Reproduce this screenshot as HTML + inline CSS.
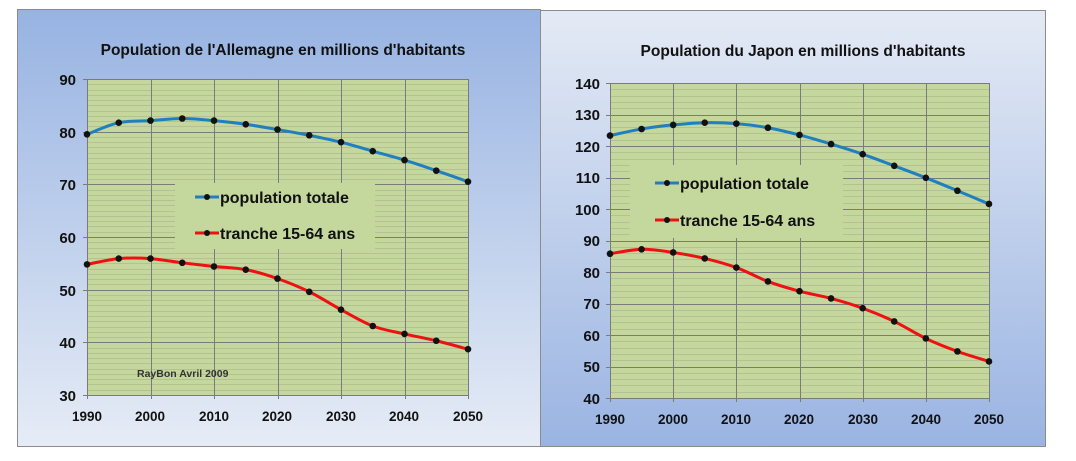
<!DOCTYPE html>
<html><head><meta charset="utf-8"><style>
body{margin:0;width:1076px;height:461px;background:#fff;overflow:hidden}
svg{display:block;font-family:"Liberation Sans",sans-serif;font-weight:bold}
</style></head><body>
<svg id="s" width="1076" height="461" xmlns="http://www.w3.org/2000/svg">
<defs>
<linearGradient id="gl" x1="0" y1="0" x2="0" y2="1"><stop offset="0" stop-color="#97b3e2"/><stop offset="1" stop-color="#e6ecf6"/></linearGradient>
<linearGradient id="gr" x1="0" y1="0" x2="0" y2="1"><stop offset="0" stop-color="#e4eaf5"/><stop offset="1" stop-color="#9ab4e2"/></linearGradient>
</defs>
<rect x="17.5" y="9.5" width="523" height="437" fill="url(#gl)" stroke="#8c8c8c"/>
<rect x="540.5" y="10.5" width="505" height="436" fill="url(#gr)" stroke="#8c8c8c"/>
<g id="g"></g>
<g font-size="15.5" fill="#111">
<text x="283" y="55" text-anchor="middle">Population de l'Allemagne en millions d'habitants</text>
<text x="803" y="56" text-anchor="middle">Population du Japon en millions d'habitants</text>
</g>
<g font-size="15" fill="#111" text-anchor="end">
<text x="76" y="85">90</text><text x="76" y="138">80</text><text x="76" y="190">70</text><text x="76" y="243">60</text><text x="76" y="296">50</text><text x="76" y="348">40</text><text x="76" y="401">30</text>
<text x="600" y="89">140</text><text x="600" y="120">130</text><text x="600" y="152">120</text><text x="600" y="183">110</text><text x="600" y="215">100</text><text x="600" y="246">90</text><text x="600" y="278">80</text><text x="600" y="309">70</text><text x="600" y="341">60</text><text x="600" y="372">50</text><text x="600" y="404">40</text>
</g>
<g font-size="13.5" fill="#111" text-anchor="middle">
<text x="87" y="421">1990</text><text x="150" y="421">2000</text><text x="214" y="421">2010</text><text x="277" y="421">2020</text><text x="341" y="421">2030</text><text x="404" y="421">2040</text><text x="468" y="421">2050</text>
<text x="610" y="424">1990</text><text x="673" y="424">2000</text><text x="736" y="424">2010</text><text x="799" y="424">2020</text><text x="863" y="424">2030</text><text x="926" y="424">2040</text><text x="989" y="424">2050</text>
</g>
<g id="lg"></g>
<g font-size="16" fill="#111">
<text x="220" y="203">population totale</text><text x="220" y="239">tranche 15-64 ans</text>
<text x="680" y="189">population totale</text><text x="680" y="226">tranche 15-64 ans</text>
</g>
<text x="137" y="377" font-size="10.5" fill="#333">RayBon Avril 2009</text>
</svg>
<script>
var NS="http://www.w3.org/2000/svg",g=document.getElementById('g'),lg=document.getElementById('lg');
function el(p,t,a){var e=document.createElementNS(NS,t);for(var k in a)e.setAttribute(k,a[k]);p.appendChild(e);return e;}
function chart(c){
 var sx=function(i){return c.x0+(c.x1-c.x0)*i/12},sy=function(v){return c.y0+(c.y1-c.y0)*(v-c.vmax)/(c.vmin-c.vmax)};
 el(g,'rect',{x:c.x0,y:c.y0,width:c.x1-c.x0,height:c.y1-c.y0,fill:'#c4d79c'});
 for(var v=c.vmin;v<=c.vmax;v+=c.minor){var y=Math.round(sy(v))+.5;el(g,'line',{x1:c.x0,x2:c.x1,y1:y,y2:y,stroke:'#a5ab8a','stroke-width':.6});}
 for(var v=c.vmin;v<=c.vmax;v+=10){var y=Math.round(sy(v))+.5;el(g,'line',{x1:c.x0-4,x2:c.x1,y1:y,y2:y,stroke:'#7b7b7b','stroke-width':1});}
 for(var i=0;i<=12;i+=2){var x=Math.round(sx(i))+.5;el(g,'line',{x1:x,x2:x,y1:c.y0,y2:c.y1+4,stroke:'#7b7b7b','stroke-width':1});}
 el(g,'rect',{x:c.lx,y:c.ly,width:c.lw,height:c.lh,fill:'#c4d79c'});
 [[c.a,'#1f7fbf'],[c.b,'#ee1111']].forEach(function(s){
  var P=s[0].map(function(v,i){return [sx(i),sy(v)]}),d='M'+P[0];
  for(var i=0;i<P.length-1;i++){var p0=P[i-1]||P[i],p1=P[i],p2=P[i+1],p3=P[i+2]||p2;
   d+='C'+(p1[0]+(p2[0]-p0[0])/6)+','+(p1[1]+(p2[1]-p0[1])/6)+' '+(p2[0]-(p3[0]-p1[0])/6)+','+(p2[1]-(p3[1]-p1[1])/6)+' '+p2;}
  el(g,'path',{d:d,fill:'none',stroke:s[1],'stroke-width':3});
  P.forEach(function(p){el(g,'circle',{cx:p[0],cy:p[1],r:3.3,fill:'#111'})});
 });
 [[c.l1,'#1f7fbf'],[c.l2,'#ee1111']].forEach(function(q){el(lg,'line',{x1:c.lxl,x2:c.lxl+24,y1:q[0],y2:q[0],stroke:q[1],'stroke-width':3});el(lg,'circle',{cx:c.lxl+12,cy:q[0],r:3,fill:'#111'});});
}
chart({x0:87,x1:468,y0:79,y1:395,vmin:30,vmax:90,minor:1,lx:175,ly:183,lw:200,lh:66,l1:197,l2:233,lxl:195,
 a:[79.5,81.7,82.1,82.5,82.1,81.4,80.4,79.3,78,76.3,74.6,72.6,70.5],
 b:[54.8,55.9,55.9,55.1,54.4,53.8,52.1,49.6,46.2,43.1,41.6,40.3,38.7]});
chart({x0:610,x1:989,y0:83,y1:398,vmin:40,vmax:140,minor:2,lx:630,ly:165,lw:213,lh:73,l1:183,l2:220,lxl:655,
 a:[123.3,125.4,126.7,127.4,127.1,125.8,123.5,120.6,117.4,113.7,109.9,105.8,101.6],
 b:[85.8,87.2,86.2,84.3,81.4,77,73.9,71.6,68.5,64.3,58.9,54.8,51.6]});
</script>
</body></html>
